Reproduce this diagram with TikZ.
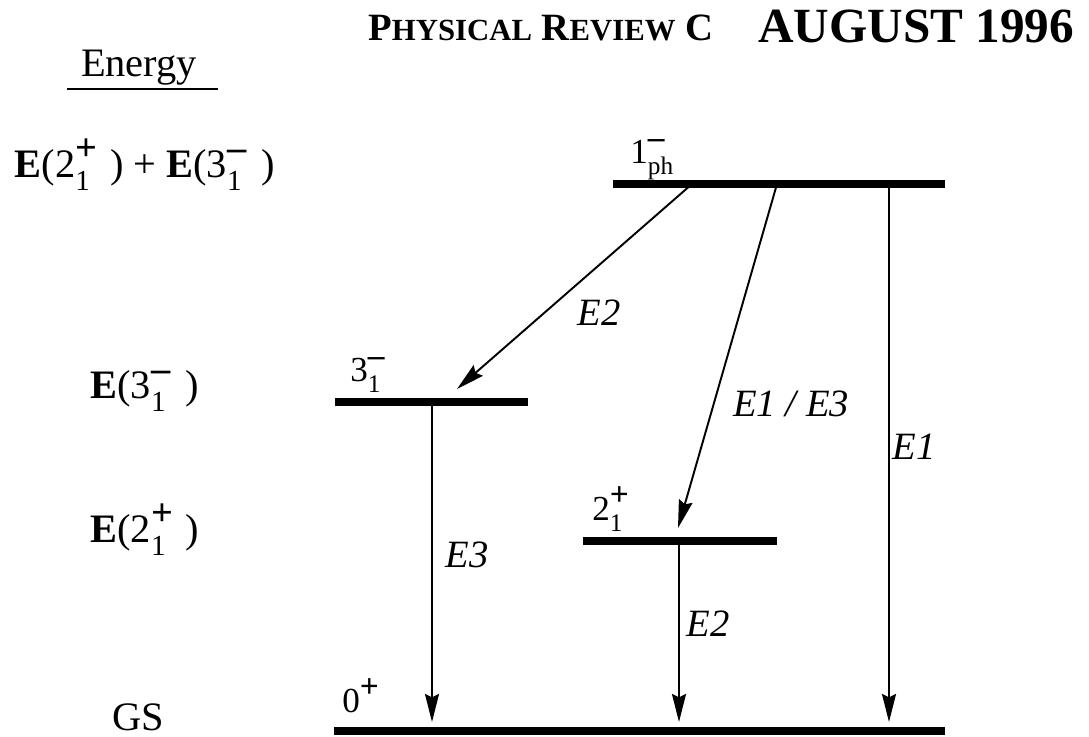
\documentclass[tikz,border=0pt]{standalone}
\usepackage{fontspec}
\setmainfont{Liberation Serif}
\usetikzlibrary{arrows.meta}
\newcommand{\minicaps}[1]{{\fontsize{17.5}{20}\selectfont #1}}
\newcommand{\jp}[3]{#1\rlap{\raisebox{0.4em}{\scalebox{0.95}{#2}}}\raisebox{-0.33em}{\scalebox{0.72}{#3}}}
\begin{document}
\begin{tikzpicture}[x=0.02cm,y=-0.02cm,
  level/.style={line width=4pt},
  trans/.style={line width=1.1pt,-{Stealth[length=16pt,width=8pt,inset=2pt]}},
  axlabel/.style={anchor=base,inner sep=0pt,font=\fontsize{23}{26}\selectfont},
  lvlabel/.style={anchor=base west,inner sep=0pt,font=\fontsize{20}{24}\selectfont},
  mult/.style={inner sep=0pt,font=\fontsize{22}{26}\selectfont\itshape}]
\useasboundingbox (0,0) rectangle (1089,737);
\node[anchor=base west,inner sep=0pt,font=\bfseries\fontsize{22}{24}\selectfont] (journal) at (368,40) {P\minicaps{HYSICAL} R\minicaps{EVIEW} C};
\node[anchor=base west,inner sep=0pt,font=\bfseries\fontsize{28}{30}\selectfont] (issue) at (758,42) {AUGUST 1996};
\node[axlabel] (energy) at (139,76) {Energy};
\coordinate (ul-w) at (67,89);
\coordinate (ul-e) at (218,89);
\draw[line width=1pt] (ul-w) -- (ul-e);
\node[axlabel] (e-sum) at (145,177) {\textbf{E}(\jp{2}{\textbf{+}}{1}\enspace) + \textbf{E}(\jp{3}{\textbf{–}}{1}\enspace)};
\node[axlabel] (e-oct) at (145,398) {\textbf{E}(\jp{3}{\textbf{–}}{1}\enspace)};
\node[axlabel] (e-quad) at (145,542) {\textbf{E}(\jp{2}{\textbf{+}}{1}\enspace)};
\node[axlabel] (e-gs) at (138,730) {GS};
\coordinate (ph-w) at (613,184);
\coordinate (ph-e) at (945,184);
\coordinate (oct-w) at (335,402);
\coordinate (oct-e) at (528,402);
\coordinate (quad-w) at (583,541);
\coordinate (quad-e) at (777,541);
\coordinate (gs-w) at (334,731);
\coordinate (gs-e) at (945,731);
\draw[level] (ph-w) -- (ph-e);
\draw[level] (oct-w) -- (oct-e);
\draw[level] (quad-w) -- (quad-e);
\draw[level] (gs-w) -- (gs-e);
\node[lvlabel] (lab-ph) at (630,163) {\jp{1}{\textbf{–}}{ph}};
\node[lvlabel] (lab-oct) at (350,381) {\jp{3}{\textbf{–}}{1}};
\node[lvlabel] (lab-quad) at (592,520) {\jp{2}{\textbf{+}}{1}};
\node[lvlabel] (lab-gs) at (342,712) {0\raisebox{0.4em}{\scalebox{0.95}{\textbf{+}}}};
\coordinate (ph-a) at (692,184);
\coordinate (ph-b) at (777,184);
\coordinate (ph-c) at (889,184);
\coordinate (oct-in) at (457,389);
\coordinate (oct-out) at (432,402);
\coordinate (quad-in) at (678,528);
\coordinate (quad-out) at (679,541);
\coordinate (gs-a) at (432,722);
\coordinate (gs-b) at (679,722);
\coordinate (gs-c) at (889,722);
\draw[trans] (ph-a) -- (oct-in);
\draw[trans] (ph-b) -- (quad-in);
\draw[trans] (ph-c) -- (gs-c);
\draw[trans] (oct-out) -- (gs-a);
\draw[trans] (quad-out) -- (gs-b);
\node[mult] (m-a) at (599,313) {E2};
\node[mult] (m-b) at (791,404) {E1 / E3};
\node[mult] (m-c) at (914,447) {E1};
\node[mult] (m-d) at (467,555) {E3};
\node[mult] (m-e) at (708,624) {E2};
\end{tikzpicture}
\end{document}
